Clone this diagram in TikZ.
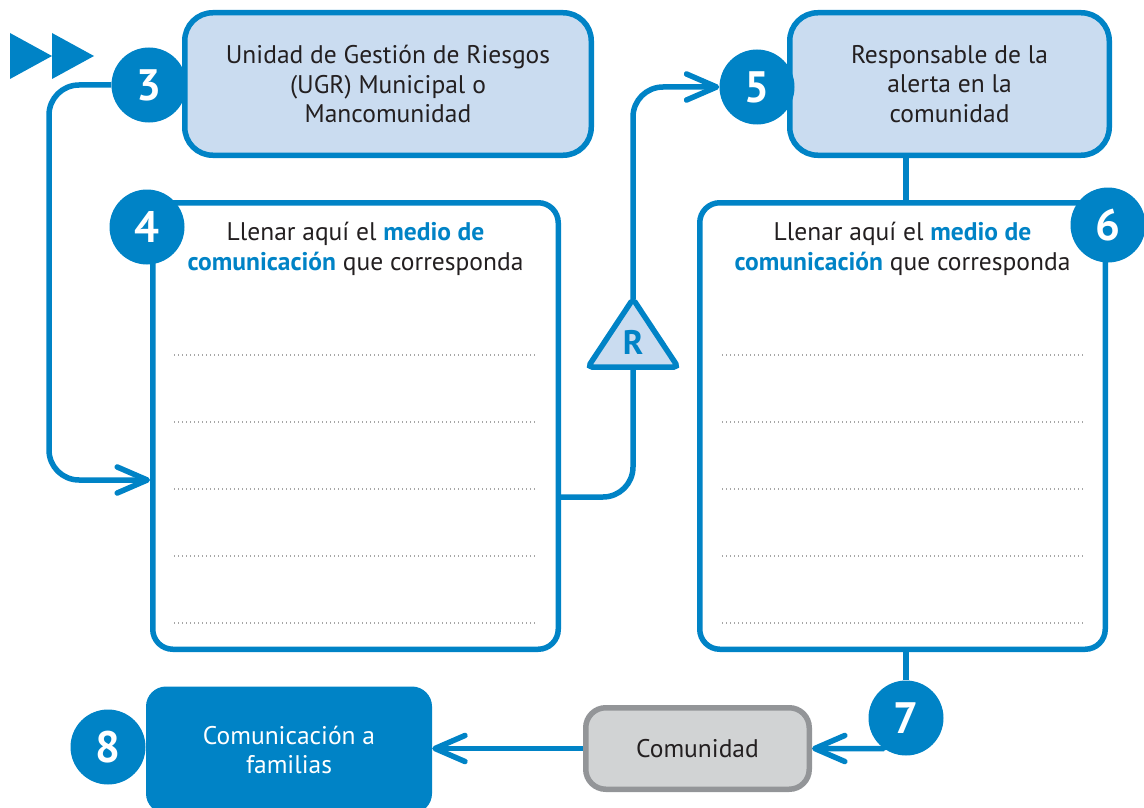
\documentclass[tikz,border=0pt]{standalone}
\usepackage{fontspec}
\setmainfont{PT Sans}
\usetikzlibrary{%
  positioning,
  arrows.meta,
  backgrounds,
}

\definecolor{ugrblue}{HTML}{0083C6}
\definecolor{ugrpale}{HTML}{CADCF0}
\definecolor{ugrgrey}{HTML}{D1D3D4}
\definecolor{ugrrim}{HTML}{939598}
\definecolor{ugrink}{HTML}{231F20}

% blue bold words in the boxes
\newcommand{\resalta}[1]{\textcolor{ugrblue}{\bfseries #1}}

\begin{document}
\begin{tikzpicture}[%
           x=1pt, y=-1pt,
           font=\fontsize{25.5}{29.5}\selectfont,
           text=ugrink,
           actor/.style={
             % The shape:
             rectangle,
             rounded corners=28pt,
             minimum height=142.5pt,
             % The border:
             line width=5.5pt,
             draw=ugrblue,
             % The filling:
             fill=ugrpale,
             align=center,
           },
           sheet/.style={
             rectangle,
             rounded corners=20pt,
             minimum width=405.5pt,
             minimum height=446.5pt,
             line width=5.5pt,
             draw=ugrblue,
             fill=white,
           },
           stepnum/.style={
             circle,
             minimum size=75pt,
             inner sep=0pt,
             fill=ugrblue,
             text=white,
             font=\fontsize{44}{44}\selectfont\bfseries,
           },
           link/.style={
             line width=5.5pt,
             draw=ugrblue,
             rounded corners=30pt,
           },
           towards/.style={
             link,
             -{Straight Barb[length=30pt,width=26pt,round]},
           },
           dots/.style={
             draw=gray!70,
             line width=1.4pt,
             dash pattern=on 1.4pt off 2.6pt,
           },
         ]
         \useasboundingbox (0,0) rectangle (1144,808);

         % play marks top left
         \foreach \dx in {0,42}
           \fill[ugrblue] (10+\dx,33) -- (10+\dx,79) -- (52+\dx,56) -- cycle;

         % boxes
         \node[actor, minimum width=406.5pt] (u3) at (388,84)
           {Unidad de Gestión de Riesgos\\(UGR) Municipal o\\Mancomunidad};
         \node[actor, minimum width=319.5pt] (u5) at (949.5,84)
           {Responsable de la\\alerta en la\\comunidad};
         \node[sheet] (u4) at (355.5,426) {};
         \node[sheet] (u6) at (902.5,426) {};
         \node[rectangle, rounded corners=20pt, line width=5.5pt,
               draw=ugrrim, fill=ugrgrey,
               minimum width=223.5pt, minimum height=81.5pt] (com) at (697.5,748.5) {Comunidad};
         \node[rectangle, rounded corners=20pt, fill=ugrblue, text=white, align=center,
               minimum width=286pt, minimum height=127pt] (u8) at (289,750)
           {Comunicación a\\familias};

         % texts in the sheets
         \node[align=center] (t4) at ([yshift=-49pt]u4.north)
           {Llenar aquí el \resalta{medio de}\\\resalta{comunicación} que corresponda};
         \node[align=center] (t6) at ([yshift=-49pt]u6.north)
           {Llenar aquí el \resalta{medio de}\\\resalta{comunicación} que corresponda};
         \foreach \y in {355,422,489,556,623} {
           \draw[dots] (174,\y) -- (537,\y);
           \draw[dots] (722,\y) -- (1085,\y);
         }

         % step numbers
         \node[stepnum] (c3) at (149,85) {3};
         \node[stepnum] (c4) at (147,227) {4};
         \node[stepnum] (c5) at (757,87) {5};
         \node[stepnum] (c6) at (1108,225) {6};
         \node[stepnum] (c7) at (906,718) {7};
         \node[stepnum] (c8) at (108,747) {8};

         % R mark
         \coordinate (rtop) at (633,299);
         \coordinate (rbase) at (633,367);

         \draw[towards] (c3.west) -| ([xshift=-101pt,yshift=-54pt]u4.west) -- ([yshift=-54pt]u4.west);
         \draw[link] ([yshift=-71pt]u4.east) -| (rbase);
         \draw[towards] (rtop) |- (c5.west);
         \draw[link] (u5.south -| c7) -- (u6.north -| c7);
         \draw[link] (u6.south -| c7) -- (c7.north);
         \begin{scope}[on background layer]
           \draw[towards] (c7.center) .. controls +(0,28) and +(22,0) .. ([xshift=42pt]com.east) -- (com.east);
         \end{scope}
         \draw[towards] (com.west) -- (com.west -| u8.east);

         \filldraw[draw=ugrblue, fill=ugrpale, line width=5.5pt, rounded corners=4pt]
           (rtop) -- ([xshift=-45pt]rbase) -- ([xshift=45pt]rbase) -- cycle;
         \node[text=ugrblue, font=\fontsize{34}{34}\selectfont\bfseries] (rlab) at (633,342) {R};
\end{tikzpicture}
\end{document}
